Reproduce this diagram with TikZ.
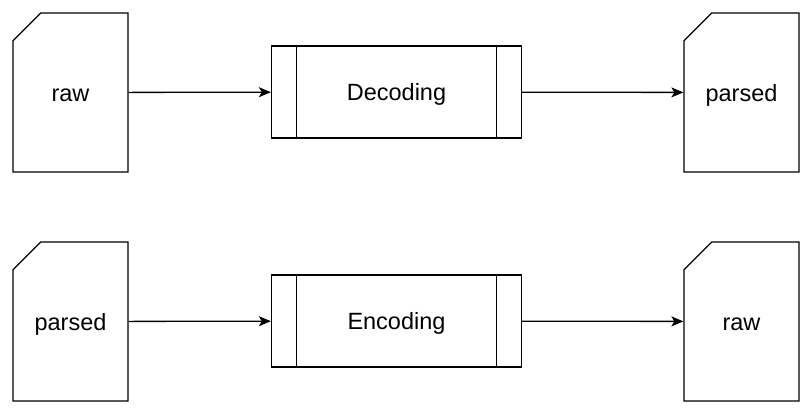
\documentclass[tikz,border=0pt]{standalone}
\usepackage{fontspec}
\setmainfont{Liberation Sans}
\usetikzlibrary{shapes.misc,arrows.meta}

\tikzset{
    datacard/.style={draw, line width=1.3pt, chamfered rectangle, chamfered rectangle corners=north west,
        chamfered rectangle xsep=19pt, chamfered rectangle ysep=19pt,
        minimum width=115pt, minimum height=159pt, inner sep=0pt, text height=17.5pt, text depth=0pt,
        font=\fontsize{23.5}{26}\selectfont},
    procbox/.style={draw, line width=1.3pt, rectangle, minimum width=250pt, minimum height=92pt,
        inner sep=0pt, text height=17.5pt, text depth=0pt, font=\fontsize{23.5}{26}\selectfont,
        path picture={
            \draw[line width=1.3pt] ([xshift=25pt]path picture bounding box.north west) -- ([xshift=25pt]path picture bounding box.south west);
            \draw[line width=1.3pt] ([xshift=-25pt]path picture bounding box.north east) -- ([xshift=-25pt]path picture bounding box.south east);
        }},
    flow/.style={-{Stealth[length=12pt,width=10pt,inset=3pt]}, line width=1.3pt}
}

\begin{document}
\begin{tikzpicture}[x=1pt, y=1pt]
    \useasboundingbox (0,0) rectangle (812,415);

    % Decoding row
    \node[datacard] (rawin) at (70.5,322.5) {raw};
    \node[procbox] (decode) at (396.5,323) {Decoding};
    \node[datacard] (parsedout) at (741.5,322.5) {parsed};

    % Encoding row
    \node[datacard] (parsedin) at (70.5,93.5) {parsed};
    \node[procbox] (encode) at (396.5,94) {Encoding};
    \node[datacard] (rawout) at (741.5,93.5) {raw};

    % Arrows
    \draw[flow] (rawin) -- (decode);
    \draw[flow] (decode) -- (parsedout);
    \draw[flow] (parsedin) -- (encode);
    \draw[flow] (encode) -- (rawout);
\end{tikzpicture}
\end{document}
